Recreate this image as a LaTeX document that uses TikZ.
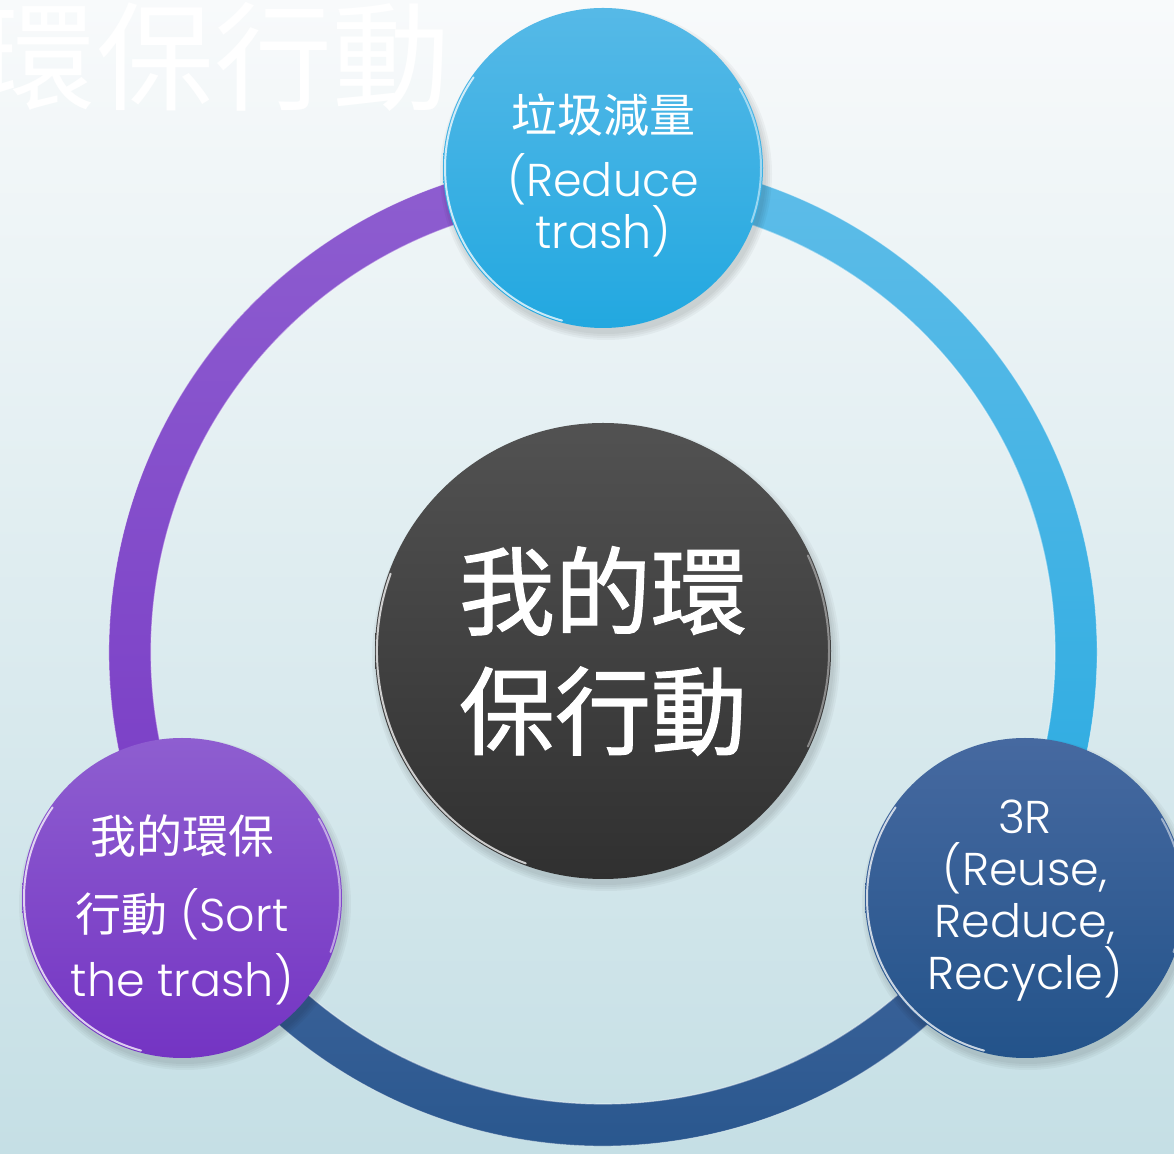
\documentclass[tikz,border=0pt]{standalone}
\usepackage{fontspec}
\setmainfont{Poppins}[UprightFont=* Light]
\newfontfamily\cjkfont{Noto Sans CJK TC}
\newfontfamily\cjkbold[FakeBold=1.2]{Noto Sans CJK TC}
\usetikzlibrary{calc}
\definecolor{bgtop}{HTML}{F8FAFB}
\definecolor{bgbot}{HTML}{C5DFE5}
\definecolor{cyanT}{HTML}{56B9E7}
\definecolor{cyanB}{HTML}{22A8E0}
\definecolor{purT}{HTML}{8E5ED0}
\definecolor{purB}{HTML}{7434C3}
\definecolor{navT}{HTML}{4669A0}
\definecolor{navB}{HTML}{23538A}
\definecolor{grT}{HTML}{525252}
\definecolor{grB}{HTML}{303030}
\begin{document}
\begin{tikzpicture}[x=1pt,y=1pt,
  bubble/.style={circle, minimum size=320pt, inner sep=0pt, text=white, align=center,
    font=\fontsize{46}{52}\selectfont},
  rim/.style={white, line width=2pt, opacity=0.75, line cap=round},
  ringhl/.style={white, line width=1.2pt, opacity=0.45},
]
\useasboundingbox (0,0) rectangle (1174,1153);
\shade[top color=bgtop, bottom color=bgbot] (0,0) rectangle (1174,1153);
\coordinate (c) at (603,501);
% title
\node[anchor=base, text=white, inner sep=0pt,
  font=\cjkfont\fontsize{118}{118}\selectfont] (title) at (214,1051) {環保行動};
% ring segments
\shade[top color=cyanT!95!white, bottom color=cyanB!90!cyanT]
  ($(c)+(90:494)$) arc[start angle=90,end angle=-32,radius=494]
  -- ($(c)+(-32:452)$) arc[start angle=-32,end angle=90,radius=452] -- cycle;
\shade[top color=navT!90!navB, bottom color=navB]
  ($(c)+(-30:494)$) arc[start angle=-30,end angle=-150,radius=494]
  -- ($(c)+(-150:452)$) arc[start angle=-150,end angle=-30,radius=452] -- cycle;
\shade[top color=purT, bottom color=purB!85!purT]
  ($(c)+(212:494)$) arc[start angle=212,end angle=90,radius=494]
  -- ($(c)+(90:452)$) arc[start angle=90,end angle=212,radius=452] -- cycle;
\draw[ringhl] (c) circle (452);
\draw[white, line width=0.8pt, opacity=0.35] (c) circle (494);
% soft shadows
\foreach \px/\py/\r in {603/985/160,182/255/160,1025/255/160,603/502/228}{
  \foreach \k in {0,2,4,6}{
    \fill[black, opacity=0.035] (\px+3,\py-6) circle (\r+\k);
  }
}
% circles
\node[bubble, top color=cyanT, bottom color=cyanB] (reduce) at (603,985) {};
\node[text=white, align=center, inner sep=0pt, font=\fontsize{46}{52}\selectfont] (reducetxt) at (603,978)
  {{\cjkfont 垃圾減量}\\[12pt](Reduce\\trash)};
\node[bubble, top color=purT, bottom color=purB] (sort) at (182,255) {};
\node[text=white, align=center, inner sep=0pt, font=\fontsize{46}{52}\selectfont] (sorttxt) at (182,243)
  {{\cjkfont 我的環保}\\[26pt]{\cjkfont 行動} (Sort\\[13pt]the trash)};
\node[bubble, top color=navT, bottom color=navB] (threeR) at (1025,255) {};
\node[text=white, align=center, inner sep=0pt, font=\fontsize{46}{52}\selectfont] (threeRtxt) at (1025,252)
  {3R\\(Reuse,\\Reduce,\\Recycle)};
\node[circle, minimum size=456pt, inner sep=0pt, top color=grT, bottom color=grB,
  text=white, align=center, font=\cjkbold\fontsize{96}{120}\selectfont] (core) at (603,502)
  {我的環\\保行動};
% rims
\draw[rim] ($(reduce.center)+(145:158)$) arc[start angle=145,end angle=255,radius=158];
\draw[rim, opacity=0.5] ($(reduce.center)+(-20:158)$) arc[start angle=-20,end angle=30,radius=158];
\draw[rim] ($(sort.center)+(145:158)$) arc[start angle=145,end angle=255,radius=158];
\draw[rim, opacity=0.5] ($(sort.center)+(-20:158)$) arc[start angle=-20,end angle=30,radius=158];
\draw[rim] ($(threeR.center)+(145:158)$) arc[start angle=145,end angle=255,radius=158];
\draw[rim, opacity=0.5] ($(threeR.center)+(-20:158)$) arc[start angle=-20,end angle=30,radius=158];
\draw[rim] ($(core.center)+(160:226)$) arc[start angle=160,end angle=250,radius=226];
\draw[rim, opacity=0.4] ($(core.center)+(-25:226)$) arc[start angle=-25,end angle=25,radius=226];
\end{tikzpicture}
\end{document}
